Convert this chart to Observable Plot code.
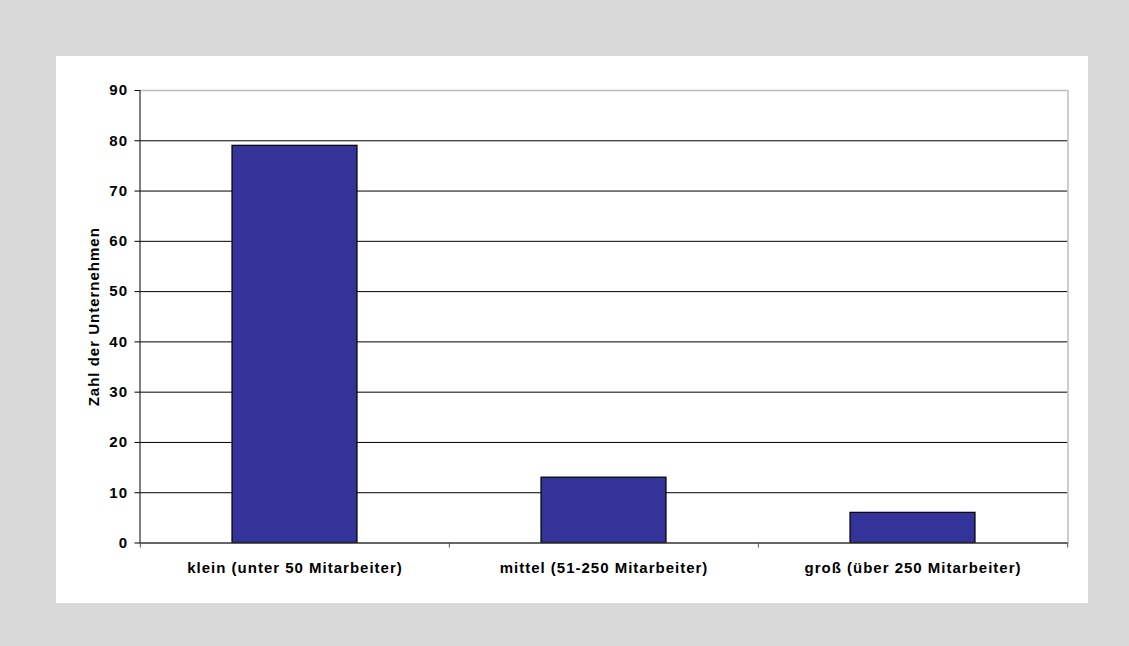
<!DOCTYPE html>
<html>
<head>
<meta charset="utf-8">
<script src="https://cdn.jsdelivr.net/npm/d3@7"></script>
<script src="https://cdn.jsdelivr.net/npm/@observablehq/plot@0.6"></script>
<style>
  html, body { margin: 0; padding: 0; background: #d9d9d9; }
  #wrap { position: relative; width: 1129px; height: 646px; overflow: hidden; }
  #panel { position: absolute; left: 56px; top: 56px; width: 1032px; height: 547px; background: #ffffff; }
  #chart { position: absolute; left: 0; top: 0; }
  #chart svg { background: transparent; }
  #chart svg text { letter-spacing: 1px; }
</style>
</head>
<body>
<div id="wrap">
  <div id="panel"></div>
  <div id="chart"></div>
</div>
<script>
const categories = ["klein (unter 50 Mitarbeiter)", "mittel (51-250 Mitarbeiter)", "groß (über 250 Mitarbeiter)"];
const values = [79, 13, 6];
const yTicks = [0, 10, 20, 30, 40, 50, 60, 70, 80, 90];
const yLabel = "Zahl der Unternehmen";

const data = categories.map((c, i) => ({category: c, value: values[i]}));

const W = 1129, H = 646;
const marginLeft = 139.5, marginRight = 61.5, marginTop = 90, marginBottom = 103.5;
const step = (W - marginLeft - marginRight) / categories.length;
const font = "Liberation Sans, Arial, Helvetica, sans-serif";

const chart = Plot.plot({
  width: W,
  height: H,
  marginLeft, marginRight, marginTop, marginBottom,
  style: {fontFamily: font, fontSize: "15px", fontWeight: "bold", color: "#000", background: "transparent"},
  x: {type: "band", domain: categories, paddingInner: 0.595, paddingOuter: 0.2975, align: 0.5},
  y: {domain: [0, 90]},
  marks: [
    Plot.ruleY(yTicks.filter(t => t > 0 && t < 90), {stroke: "#000", strokeWidth: 1}),
    Plot.ruleY([90], {stroke: "#bdbdbd", strokeWidth: 1.5}),
    Plot.frame({anchor: "right", stroke: "#bdbdbd", strokeWidth: 1.5}),
    Plot.barY(data, {x: "category", y: "value", fill: "#333399", stroke: "#000", strokeWidth: 1.2}),
    Plot.axisY({ticks: yTicks, tickSize: 5, tickPadding: 7, label: yLabel, labelAnchor: "center", labelArrow: "none", labelOffset: 52, stroke: "#000", fontSize: 15}),
    Plot.frame({anchor: "left", stroke: "#000", strokeWidth: 1}),
    Plot.ruleY([0], {stroke: "#333", strokeWidth: 1.5}),
    Plot.axisX({tickSize: 0, tickPadding: 19, label: null, fontSize: 15}),
    Plot.axisX({tickSize: 5, tickFormat: () => "", label: null, dx: -step / 2, stroke: "#555"}),
    Plot.axisX({ticks: [categories[categories.length - 1]], tickSize: 5, tickFormat: () => "", label: null, dx: step / 2, stroke: "#555"})
  ]
});
document.getElementById("chart").appendChild(chart);
</script>
</body>
</html>
